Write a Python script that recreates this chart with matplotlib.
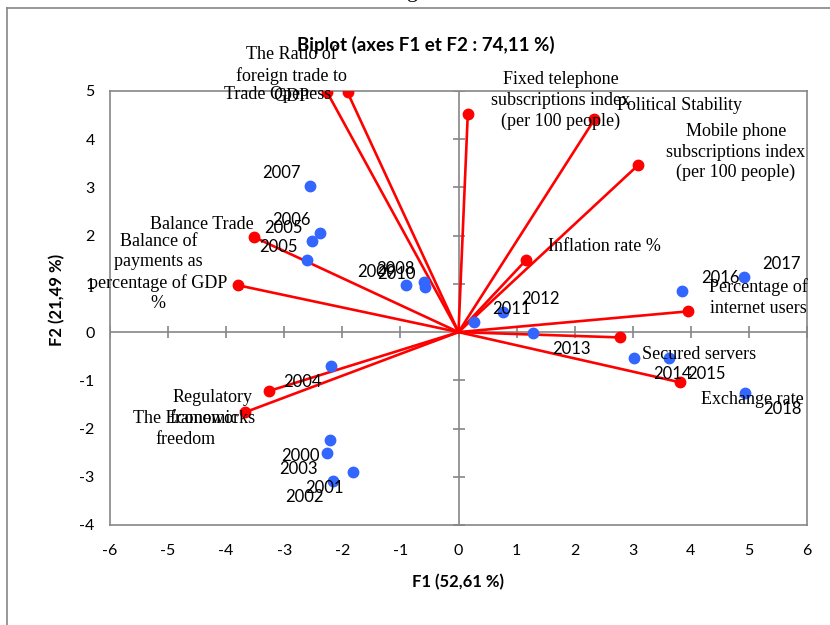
import matplotlib
matplotlib.use('Agg')
import matplotlib.pyplot as plt
from matplotlib.lines import Line2D
import numpy as np

plt.rcParams['axes.unicode_minus'] = False

# variables (red vectors)
var_names = ['Fixed telephone\nsubscriptions index\n(per 100 people)',
             'The Ratio of\nforeign trade to\nGDP',
             'Trade Openess',
             'Political Stability',
             'Mobile phone\nsubscriptions index\n(per 100 people)',
             'Inflation rate %',
             'Percentage of\ninternet users',
             'Secured servers',
             'Exchange rate',
             'Balance Trade',
             'Balance of\npayments as\npercentage of GDP\n%',
             'Regulatory\nframeworks',
             'The Economic\nfreedom']
var_f1 = [0.16, -1.91, -2.26, 2.34, 3.09, 1.16, 3.95, 2.78, 3.81, -3.52, -3.79, -3.26, -3.67]
var_f2 = [4.53, 4.97, 4.97, 4.41, 3.46, 1.49, 0.43, -0.11, -1.04, 1.97, 0.97, -1.22, -1.66]

# observations (blue points)
obs_names = ['2000', '2001', '2002', '2003', '2004', '2005', '2005', '2006', '2007',
             '2008', '2009', '2010', '2011', '2012', '2013', '2014', '2015', '2016',
             '2017', '2018']
obs_f1 = [-2.22, -1.81, -2.16, -2.26, -2.19, -2.60, -2.52, -2.38, -2.55,
          -0.59, -0.91, -0.57, 0.26, 0.76, 1.29, 3.03, 3.62, 3.85, 4.91, 4.93]
obs_f2 = [-2.24, -2.90, -3.08, -2.51, -0.70, 1.49, 1.88, 2.05, 3.04,
          1.04, 0.97, 0.93, 0.21, 0.41, -0.02, -0.54, -0.54, 0.85, 1.14, -1.26]

xticks = np.arange(-6, 7)
yticks = np.arange(-4, 6)

# label offsets in pixels (dx, dy up) from the red markers
var_offsets = [(93, 13), (-56, 17), (-50, -2), (85, 14), (98, 13), (79, 14), (70, 14),
               (79, -17), (73, -17), (-52, 13), (-80, 13), (-57, -17), (-60, -17)]

grey = '#868686'
red = '#FF0000'
blue = '#3366FF'
px = 0.72  # points per pixel at dpi 100

fig = plt.figure(figsize=(8.3, 6.25), dpi=100)
ax = fig.add_axes([110 / 830, 1 - 525 / 625, 697 / 830, 434 / 625])
ax.set_xlim(-6, 6)
ax.set_ylim(-4, 5)

for s in ax.spines.values():
    s.set_color(grey)
    s.set_linewidth(1.2)

ax.set_xticks(xticks)
ax.set_yticks(yticks)
ax.tick_params(length=0, labelsize=11.5)
ax.tick_params(axis='x', pad=14)
ax.tick_params(axis='y', pad=11)
for lab in ax.get_xticklabels() + ax.get_yticklabels():
    lab.set_fontfamily('Lato')

# axis lines through the origin, with crossing ticks
ax.axhline(0, color=grey, lw=1.2, zorder=1)
ax.axvline(0, color=grey, lw=1.2, zorder=1)
ax.plot(xticks, np.zeros(len(xticks)), ls='none', marker='|', ms=9, mew=1.2, color=grey, zorder=1)
ax.plot(np.zeros(len(yticks)), yticks, ls='none', marker='_', ms=9, mew=1.2, color=grey, zorder=1)

# vectors
for x, y in zip(var_f1, var_f2):
    ax.plot([0, x], [0, y], color=red, lw=1.9, zorder=2, solid_capstyle='round')
ax.plot(var_f1, var_f2, ls='none', marker='o', ms=7.5, color=red, zorder=4)

# observations
ax.plot(obs_f1, obs_f2, ls='none', marker='o', ms=7.5, color=blue, zorder=3)

for name, x, y in zip(obs_names, obs_f1, obs_f2):
    dx = 38 if x > 0 else -29
    dy = 13 if y > 0 else -16
    ax.annotate(name, (x, y), xytext=(dx * px, dy * px), textcoords='offset points',
                ha='center', va='center', fontsize=12, family='Lato', zorder=5)

for name, x, y, (dx, dy) in zip(var_names, var_f1, var_f2, var_offsets):
    ax.annotate(name, (x, y), xytext=(dx * px, dy * px), textcoords='offset points',
                ha='center', va='center', multialignment='center', fontsize=13,
                family='Liberation Serif', linespacing=1.27, zorder=5,
                annotation_clip=False)

ax.set_xlabel('F1 (52,61 %)', fontsize=12, fontweight='bold', family='Lato')
ax.set_ylabel('F2 (21,49 %)', fontsize=12, fontweight='bold', family='Lato')
ax.xaxis.set_label_coords(0.499, -0.131)
ax.xaxis.label.set_va('center')
ax.yaxis.set_label_coords(-0.076, 0.518)
ax.yaxis.label.set_va('center')

fig.text(426 / 830, 1 - 45 / 625, 'Biplot (axes F1 et F2 : 74,11 %)', ha='center', va='center',
         fontsize=13.5, fontweight='bold', family='Lato')

# clipped caption above and the outer frame
fig.text(0.497, 1.004, 'g', ha='center', va='baseline', fontsize=16, family='Liberation Serif')
fig.add_artist(Line2D([7 / 830, 1], [1 - 8 / 625, 1 - 8 / 625], color=grey, lw=1.2))
fig.add_artist(Line2D([7 / 830, 7 / 830], [0, 1 - 8 / 625], color=grey, lw=1.2))

fig.savefig('out.png', dpi=100)
